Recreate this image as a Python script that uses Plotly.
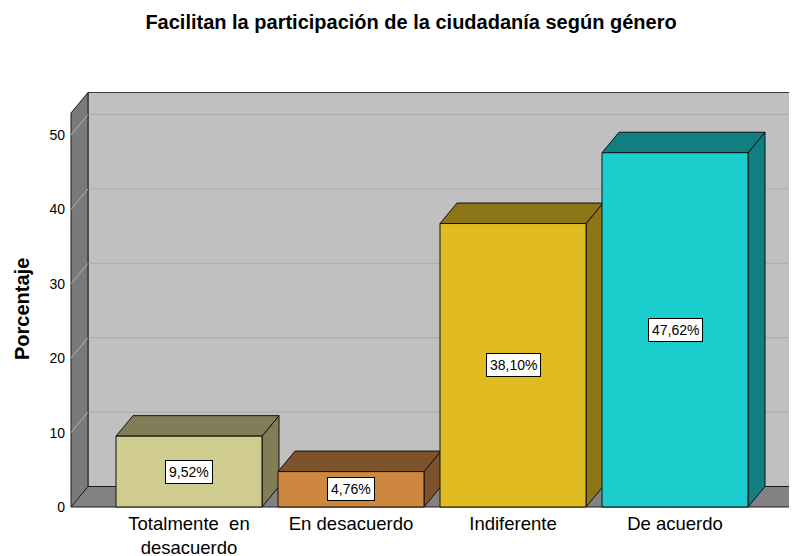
import plotly.graph_objects as go

# ---------------- data ----------------
categories = ["Totalmente  en desacuerdo", "En desacuerdo", "Indiferente", "De acuerdo"]
tick_labels = ["Totalmente  en<br>desacuerdo", "En desacuerdo", "Indiferente", "De acuerdo"]
percentages = [9.52, 4.76, 38.10, 47.62]
value_labels = ["9,52%", "4,76%", "38,10%", "47,62%"]
y_ticks = [0, 10, 20, 30, 40, 50]
title_text = "Facilitan la participación de la ciudadanía según género"
y_title = "Porcentaje"

# ---------------- style ----------------
front_colors = ["#D0CB8F", "#CE873E", "#E1BC20", "#1CCDCD"]
dark_colors = ["#807D57", "#7E522A", "#8C7516", "#117F7F"]
FONT = "Liberation Sans, Arial, Helvetica, sans-serif"

OFF = 8                      # page body margin of the html page
PAGE_W, PAGE_H = 797, 556
W, H = PAGE_W - OFF, PAGE_H - OFF

# layout in page pixels
PL, PR, PT, PB = 66, 797, 88, 512   # plot area left/right/top/bottom
ML, MR, MT, MB = PL - OFF, PAGE_W - PR, PT - OFF, PAGE_H - PB

PX_X = 162.0          # pixels per category step
PX_Y = 7.44           # pixels per percent
X0_PX = 189.0         # page pixel of category 0 centre
Y0_PX = 507.0         # page pixel of value 0

x_range = [(PL - X0_PX) / PX_X, (PR - X0_PX) / PX_X]
y_range = [(Y0_PX - PB) / PX_Y, (Y0_PX - PT) / PX_Y]

HALF = 73.0 / PX_X                # bar half width
DX = 17.0 / PX_X                  # depth offset (x)
DY = 20.5 / PX_Y                  # depth offset (y)
WX = (71.0 - X0_PX) / PX_X        # left wall front x
WALL_TOP = (Y0_PX - 113.0) / PX_Y
FLOOR_END = (793.0 - X0_PX) / PX_X
FAR_RIGHT = x_range[1] + 1.0

fig = go.Figure()


def poly(xs, ys, fill, line_color, width=1.0):
    fig.add_trace(go.Scatter(
        x=list(xs) + [xs[0]], y=list(ys) + [ys[0]], mode="lines",
        fill="toself", fillcolor=fill,
        line=dict(color=line_color, width=width),
        hoverinfo="skip", showlegend=False))


def seg(xs, ys, color, width=1.0):
    fig.add_trace(go.Scatter(
        x=xs, y=ys, mode="lines", line=dict(color=color, width=width),
        hoverinfo="skip", showlegend=False))


# back wall
poly([WX + DX, FAR_RIGHT, FAR_RIGHT, WX + DX],
     [DY, DY, WALL_TOP + DY, WALL_TOP + DY], "#C0C0C0", "#3A3A3A")
for v in y_ticks[1:]:
    seg([WX + DX, FAR_RIGHT], [v + DY, v + DY], "#ABABAB")

# left wall
poly([WX, WX, WX + DX, WX + DX], [0, WALL_TOP, WALL_TOP + DY, DY], "#7A7A7A", "#1A1A1A")
for v in y_ticks:
    seg([WX, WX + DX], [v, v + DY], "#B4B4B4")

# floor
poly([WX, FLOOR_END, FLOOR_END + DX, WX + DX], [0, 0, DY, DY], "#828282", "#1A1A1A")

# bars (front faces + top + side) built from data
for i, v in enumerate(percentages):
    x0, x1 = i - HALF, i + HALF
    poly([x1, x1 + DX, x1 + DX, x1], [0, DY, v + DY, v], dark_colors[i], "#111111")
    poly([x0, x1, x1 + DX, x0 + DX], [v, v, v + DY, v + DY], dark_colors[i], "#111111")
    poly([x0, x1, x1, x0], [0, 0, v, v], front_colors[i], "#111111")

annotations = []
for i, v in enumerate(percentages):
    annotations.append(dict(
        x=i, y=v / 2, xref="x", yref="y", text=value_labels[i], showarrow=False,
        xanchor="center", yanchor="middle",
        font=dict(family=FONT, size=14, color="black"),
        bgcolor="white", bordercolor="black", borderwidth=1, borderpad=3))

pw = PR - PL
ph = PB - PT
annotations.append(dict(
    x=(22 - PL) / pw, y=(PB - 309) / ph, xref="paper", yref="paper",
    xanchor="center", yanchor="middle",
    text="<b>" + y_title + "</b>", textangle=-90, showarrow=False,
    font=dict(family=FONT, size=20, color="black")))

fig.update_layout(
    width=W, height=H,
    margin=dict(l=ML, r=MR, t=MT, b=MB, pad=0, autoexpand=False),
    paper_bgcolor="white", plot_bgcolor="white",
    title=dict(text="<b>" + title_text + "</b>", x=(411 - OFF) / W, y=1 - (22 - OFF) / H,
               xref="container", yref="container", xanchor="center", yanchor="middle",
               font=dict(family=FONT, size=20, color="black")),
    xaxis=dict(range=x_range, tickvals=list(range(len(categories))), ticktext=tick_labels,
               showgrid=False, zeroline=False, showline=False, ticks="", automargin=False,
               ticklabelstandoff=-2,
               tickfont=dict(family=FONT, size=18.5, color="black"), fixedrange=True),
    yaxis=dict(range=y_range, tickvals=y_ticks, ticktext=[str(t) for t in y_ticks],
               showgrid=False, zeroline=False, showline=False, ticks="", automargin=False,
               tickfont=dict(family=FONT, size=14, color="black"), fixedrange=True),
    annotations=annotations,
    showlegend=False,
)

fig.write_html("out.html")
